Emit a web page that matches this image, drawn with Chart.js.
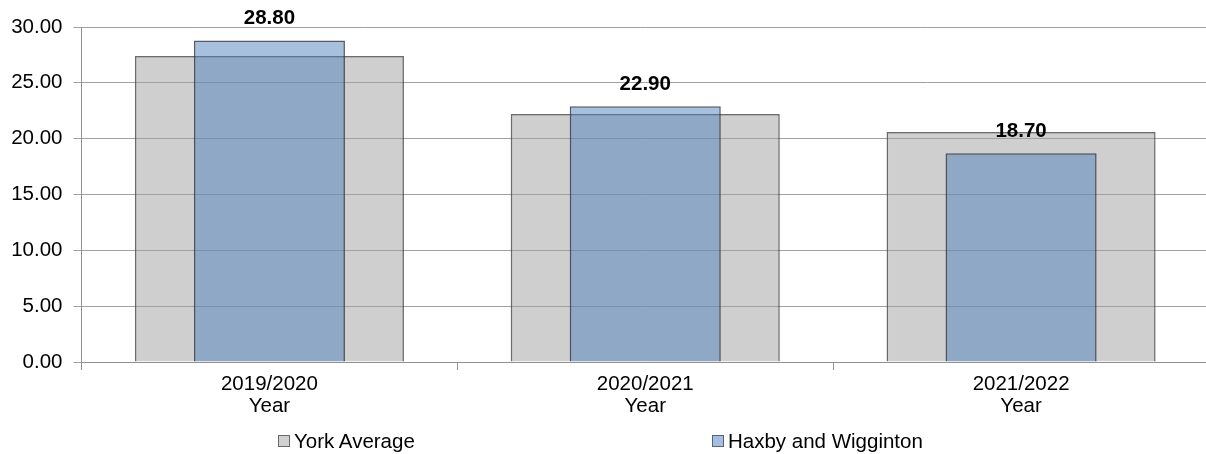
<!DOCTYPE html>
<html>
<head>
<meta charset="utf-8">
<script src="https://cdn.jsdelivr.net/npm/chart.js@4/dist/chart.umd.min.js"></script>
<style>
  html, body { margin: 0; padding: 0; background: #fff; overflow: hidden; }
  #wrap { position: relative; width: 1206px; height: 454px; overflow: hidden; }
  #legend { position: absolute; left: 0; top: 429px; width: 1206px; height: 24px;
    font: 20.5px "Liberation Sans", Arial, sans-serif; color: #000; }
  .item { position: absolute; top: 0; line-height: 24px; white-space: nowrap; }
  .box { display: inline-block; width: 10px; height: 10px; margin-right: 4px; vertical-align: 1px; }
</style>
</head>
<body>
<div id="wrap">
  <canvas id="chart" width="1209" height="454"></canvas>
  <div id="legend">
    <div class="item" style="left:278px"><span class="box" style="background:#d0d0d0;border:1px solid #6a6a6a"></span>York Average</div>
    <div class="item" style="left:712px"><span class="box" style="background:#a7bfdf;border:1px solid #55647a"></span>Haxby and Wigginton</div>
  </div>
</div>
<script>
const categories = [["2019/2020", "Year"], ["2020/2021", "Year"], ["2021/2022", "Year"]];
const yorkAverage = [27.4, 22.2, 20.6];
const haxbyWigginton = [28.8, 22.9, 18.7];

const FONT = { family: "'Liberation Sans', Arial, sans-serif", size: 20.5 };

// value labels above the blue bars
const valueLabels = {
  id: "valueLabels",
  afterDatasetsDraw(chart) {
    const ctx = chart.ctx;
    const meta = chart.getDatasetMeta(1);
    ctx.save();
    ctx.font = "bold 20.5px 'Liberation Sans', Arial, sans-serif";
    ctx.fillStyle = "#000";
    ctx.textAlign = "center";
    ctx.textBaseline = "middle";
    meta.data.forEach(function (bar, i) {
      ctx.fillText(haxbyWigginton[i].toFixed(2), bar.x, bar.y - 22);
    });
    ctx.restore();
  },
};

new Chart(document.getElementById("chart"), {
  type: "bar",
  data: {
    labels: categories,
    datasets: [
      {
        label: "York Average",
        data: yorkAverage,
        backgroundColor: "rgba(160, 160, 160, 0.5)",
        borderColor: "rgba(70, 70, 70, 0.8)",
        borderWidth: 1.5,
        grouped: false,
        barPercentage: 0.716,
        categoryPercentage: 1,
        order: 1,
      },
      {
        label: "Haxby and Wigginton",
        data: haxbyWigginton,
        backgroundColor: "rgba(79, 129, 189, 0.5)",
        borderColor: "rgba(45, 50, 60, 0.8)",
        borderWidth: 1.5,
        grouped: false,
        barPercentage: 0.402,
        categoryPercentage: 1,
        order: 0,
      },
    ],
  },
  options: {
    responsive: false,
    animation: false,
    layout: { padding: { top: 27, right: 0, left: 0, bottom: 0 } },
    plugins: {
      legend: { display: false },
      tooltip: { enabled: false },
    },
    scales: {
      x: {
        afterFit(scale) { scale.height = 92; },
        grid: { drawOnChartArea: false, color: "#909090", tickLength: 8 },
        border: { color: "#909090" },
        ticks: { color: "#000", font: Object.assign({ lineHeight: 1.1 }, FONT), padding: 3, maxRotation: 0 },
      },
      y: {
        min: 0,
        max: 30,
        afterFit(scale) { scale.width = 81.5; },
        grid: { color: "#a0a0a0", tickLength: 8 },
        border: { color: "#909090" },
        ticks: {
          stepSize: 5,
          color: "#000",
          font: FONT,
          padding: 11,
          callback: function (v) { return v.toFixed(2); },
        },
      },
    },
  },
  plugins: [valueLabels],
});
</script>
</body>
</html>
